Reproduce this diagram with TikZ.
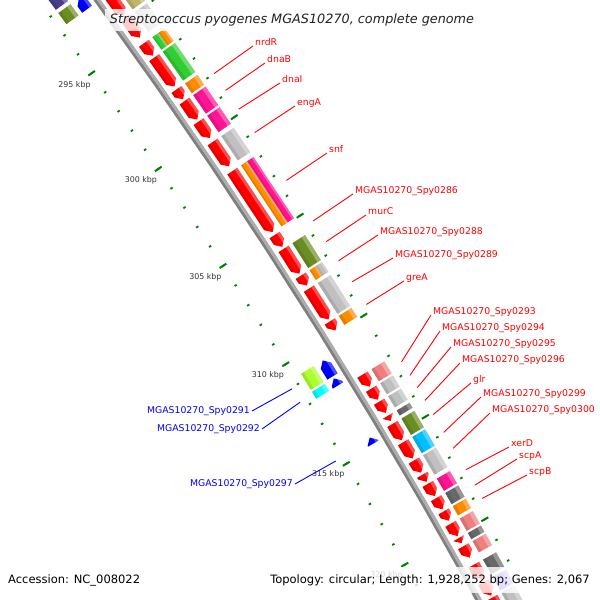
\documentclass[tikz,border=0pt]{standalone}
\usepackage{fontspec}
\setmainfont{DejaVu Sans}
\usetikzlibrary{calc}

\definecolor{genered}{RGB}{255,0,0}
\definecolor{geneblue}{RGB}{0,0,255}
\definecolor{cogkhaki}{RGB}{189,183,107}
\definecolor{cogsilver}{RGB}{192,192,192}
\definecolor{coggreen}{RGB}{50,205,50}
\definecolor{cogorange}{RGB}{255,140,0}
\definecolor{cogpink}{RGB}{255,20,147}
\definecolor{cogolive}{RGB}{107,142,35}
\definecolor{cogsalmon}{RGB}{240,128,128}
\definecolor{cogdim}{RGB}{105,105,105}
\definecolor{cogsky}{RGB}{0,191,255}
\definecolor{coglime}{RGB}{173,255,47}
\definecolor{cogcyan}{RGB}{0,255,255}
\definecolor{cogslate}{RGB}{72,61,139}
\definecolor{cogmslate}{RGB}{123,104,238}
\definecolor{tickgreen}{RGB}{0,128,0}
\definecolor{tickgray}{RGB}{51,51,51}

% angle of a position (kbp) seen from the far away centre
\newcommand{\kang}[1]{35.45-0.2352*(#1-295)}

\newcommand{\fwdgene}[2]{%
  \pgfmathsetmacro\ga{\kang{#1}}%
  \pgfmathsetmacro\gb{\kang{#2}}%
  \pgfmathsetmacro\gh{\kang{max(#1,#2-0.26)}}%
  \fill[genered] (\ga:5735) -- (\gh:5735) -- (\gb:5741) -- (\gh:5747) -- (\ga:5747) -- cycle;
  \begin{scope}
    \clip (\ga:5735) -- (\gh:5735) -- (\gb:5741) -- (\gh:5747) -- (\ga:5747) -- cycle;
    \fill[hilite] (\ga:5743.8) -- (\gb:5743.8) -- (\gb:5748) -- (\ga:5748) -- cycle;
    \fill[lolite] (\ga:5734) -- (\gb:5734) -- (\gb:5737.6) -- (\ga:5737.6) -- cycle;
  \end{scope}}

\newcommand{\revgene}[2]{%
  \pgfmathsetmacro\ga{\kang{#1}}%
  \pgfmathsetmacro\gb{\kang{#2}}%
  \pgfmathsetmacro\gh{\kang{min(#2,#1+0.26)}}%
  \fill[geneblue] (\ga:5714.5) -- (\gh:5708.5) -- (\gb:5708.5) -- (\gb:5720.5) -- (\gh:5720.5) -- cycle;
  \begin{scope}
    \clip (\ga:5714.5) -- (\gh:5708.5) -- (\gb:5708.5) -- (\gb:5720.5) -- (\gh:5720.5) -- cycle;
    \fill[hilite] (\ga:5717.3) -- (\gb:5717.3) -- (\gb:5721) -- (\ga:5721) -- cycle;
    \fill[lolite] (\ga:5708) -- (\gb:5708) -- (\gb:5711.2) -- (\ga:5711.2) -- cycle;
  \end{scope}}

\newcommand{\cogbox}[5]{%
  \pgfmathsetmacro\ga{\kang{#1}}%
  \pgfmathsetmacro\gb{\kang{#2}}%
  \pgfmathsetmacro\rh{#4-0.27*(#4-#3)}%
  \pgfmathsetmacro\rl{#3+0.22*(#4-#3)}%
  \fill[fill=#5] (\ga:#3) -- (\gb:#3) -- (\gb:#4) -- (\ga:#4) -- cycle;
  \fill[hilite] (\ga:\rh) -- (\gb:\rh) -- (\gb:#4) -- (\ga:#4) -- cycle;
  \fill[lolite] (\ga:#3) -- (\gb:#3) -- (\gb:\rl) -- (\ga:\rl) -- cycle;}

\begin{document}
\begin{tikzpicture}[x=1pt, y=1pt,
    hilite/.style={white, opacity=.3},
    lolite/.style={black, opacity=.1},
    bbin/.style={draw={rgb,255:red,128;green,128;blue,128}, line width=3pt},
    bbout/.style={draw={rgb,255:red,172;green,172;blue,172}, line width=3pt},
    tickmin/.style={tickgreen, line width=1.8pt},
    tickmaj/.style={tickgreen, line width=2pt},
    ticklab/.style={text=tickgray, font=\fontsize{7.9}{9}\selectfont, inner sep=0pt},
    flab/.style={text=genered, font=\fontsize{9.3}{11}\selectfont, inner xsep=2pt, inner ysep=1pt, anchor=base west},
    rlab/.style={text=geneblue, font=\fontsize{9.3}{11}\selectfont, inner xsep=2pt, inner ysep=1pt, anchor=east},
    fline/.style={genered, line width=.9pt},
    rline/.style={geneblue, line width=.9pt},
    band/.style={fill=white, fill opacity=.8, text opacity=1, minimum height=26pt, inner ysep=0pt}]

\useasboundingbox (0,0) rectangle (600,600);
\clip (0,0) rectangle (600,600);
\coordinate (ctr) at (-4536,-2768);

\begin{scope}[shift={(ctr)}]
  % backbone
  \draw[bbin] plot[domain=26:39, samples=40] (\x:5726.5);
  \draw[bbout] plot[domain=26:39, samples=40] (\x:5729.5);

  % ticks, inner and outer
  \foreach \k in {289,...,326}{
    \draw[tickmin] ({\kang{\k}}:5679.7) -- ({\kang{\k}}:5682.3);
    \draw[tickmin] ({\kang{\k}}:5771.7) -- ({\kang{\k}}:5774.3);
  }
  \foreach \k in {290,295,...,325}{
    \draw[tickmaj] ({\kang{\k}}:5677) -- ({\kang{\k}}:5685);
    \draw[tickmaj] ({\kang{\k}}:5769) -- ({\kang{\k}}:5777);
  }
  \foreach \k in {295,300,...,320}
    \node[ticklab] (t\k) at ({\kang{\k}}:5660) {\k\ kbp};

  % forward strand
  \foreach \ka/\kb in {291.5/293.8, 293.95/294.95, 295.25/295.9, 296.0/297.5,
      297.65/298.15, 298.25/299.2, 299.3/300.15, 300.35/301.6, 301.85/304.95,
      305.1/305.7, 305.8/307.05, 307.15/307.65, 307.8/309.35, 309.45/309.9,
      312.1/312.7, 312.8/313.35, 313.45/314.0, 314.15/314.4, 314.55/315.35,
      315.45/316.25, 316.35/316.95, 317.05/317.4, 317.5/318.1, 318.2/318.75,
      318.85/319.3, 319.45/320.05, 320.15/320.4, 320.55/321.1, 321.45/322.15,
      322.3/322.95, 323.05/324.2}
    \fwdgene{\ka}{\kb};

  \foreach \ka/\kb/\cc in {292.0/293.8/cogkhaki, 293.95/294.95/cogsilver,
      296.0/297.5/coggreen, 297.65/298.15/cogorange, 298.25/299.2/cogpink,
      299.3/300.15/cogpink, 300.35/301.6/cogsilver, 305.8/307.05/cogolive,
      307.8/309.35/cogsilver, 309.45/309.9/cogorange, 312.1/312.7/cogsalmon,
      312.8/313.35/cogsilver, 313.45/314.0/cogsilver, 314.15/314.4/cogdim,
      314.55/315.35/cogolive, 315.45/316.25/cogsky, 316.35/317.3/cogsilver,
      317.5/318.1/cogpink, 318.2/318.75/cogdim, 318.85/319.3/cogorange,
      319.45/320.05/cogsalmon, 320.15/320.45/cogdim, 320.55/321.1/cogsalmon,
      321.45/322.15/cogdim, 322.3/322.95/cogmslate, 323.05/324.2/cogsilver}
    \cogbox{\ka}{\kb}{5751.5}{5766.5}{\cc};

  \foreach \ka/\kb/\ci/\co in {295.25/295.9/coggreen/cogorange,
      301.85/304.95/cogorange/cogpink, 307.15/307.65/cogorange/cogsilver}{
    \cogbox{\ka}{\kb}{5751.5}{5759}{\ci}
    \cogbox{\ka}{\kb}{5759}{5766.5}{\co}
  }

  % reverse strand
  \foreach \ka/\kb in {292.07/292.66, 310.7/311.5, 311.6/311.95, 314.55/314.85}
    \revgene{\ka}{\kb};
  \foreach \ka/\kb/\cc in {289.0/291.9/cogslate, 292.07/292.66/cogolive,
      310.7/311.5/coglime, 311.6/311.95/cogcyan}
    \cogbox{\ka}{\kb}{5689}{5704}{\cc};
\end{scope}

% labels
\foreach \nm/\kk/\lx/\ly/\txt in {nrdR/298.0/253/554/nrdR, dnaB/298.86/265/537/dnaB,
    dnaI/299.83/280/517/dnaI, engA/301.02/295/494/engA, snf/303.44/327/447/snf,
    s0286/305.49/353/406/MGAS10270\_Spy0286, murC/306.52/366/385/murC,
    s0288/307.48/378/365/MGAS10270\_Spy0288, s0289/308.53/393/342/MGAS10270\_Spy0289,
    greA/309.66/404/319/greA, s0293/312.5/431/285/MGAS10270\_Spy0293,
    s0294/313.17/440/269/MGAS10270\_Spy0294, s0295/313.77/451/253/MGAS10270\_Spy0295,
    s0296/314.4/460/237/MGAS10270\_Spy0296, glr/315.09/471/217/glr,
    s0299/315.96/481/203/MGAS10270\_Spy0299, s0300/316.74/490/187/MGAS10270\_Spy0300,
    xerD/317.79/509/153/xerD, scpA/318.54/517/141/scpA, scpB/319.18/527/125/scpB}{
  \coordinate (p\nm) at ($(ctr)+({\kang{\kk}}:5781)$);
  \node[flab] (\nm) at (\lx,\ly) {\txt};
  \draw[fline] (p\nm) -- (\nm.base west);
}
\foreach \nm/\kk/\lx/\ly/\txt in {s0291/311.04/252/189/MGAS10270\_Spy0291,
    s0292/311.71/262/171/MGAS10270\_Spy0292, s0297/314.67/295/116/MGAS10270\_Spy0297}{
  \coordinate (q\nm) at ($(ctr)+({\kang{\kk}}:5673.5)$);
  \node[rlab] (\nm) at (\lx,\ly) {\txt};
  \draw[rline] (q\nm) -- (\nm.east);
}

% title and legend
\node[band, minimum height=22pt, inner xsep=5pt, text={rgb,255:red,34;green,34;blue,34},
  font=\fontsize{12.8}{15}\selectfont\itshape] (title) at (292,580)
  {Streptococcus pyogenes MGAS10270, complete genome};
\node[band, anchor=west, inner xsep=3pt, font=\fontsize{11.5}{14}\selectfont] (acc) at (5,20)
  {Accession: NC\_008022};
\node[band, anchor=east, inner xsep=3pt, font=\fontsize{11.5}{14}\selectfont] (topo) at (593,20)
  {Topology: circular; Length: 1,928,252 bp; Genes: 2,067};
\end{tikzpicture}
\end{document}
